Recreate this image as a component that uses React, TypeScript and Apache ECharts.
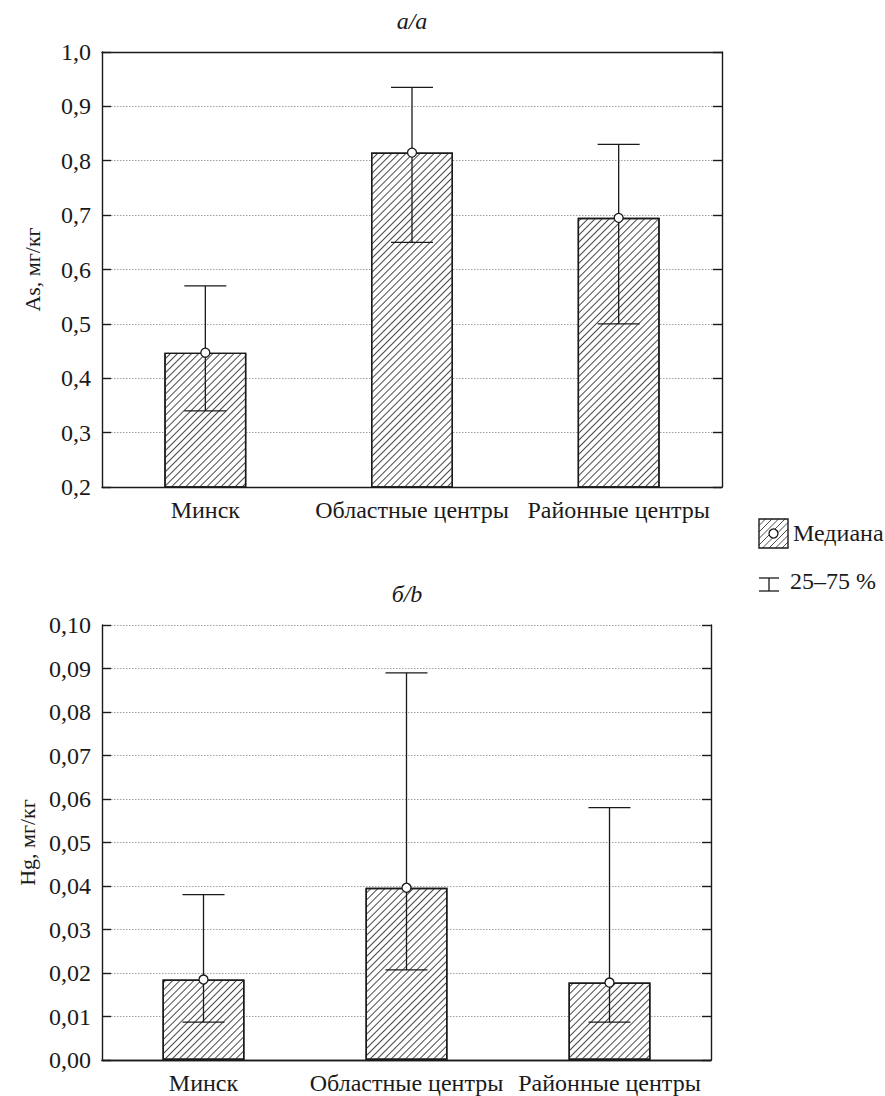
import React, { useEffect, useRef } from "react";
import * as echarts from "echarts";

const categories = ["Минск", "Областные центры", "Районные центры"];

// Panel a/a: As, mg/kg
const asMedian = [0.447, 0.815, 0.695];
const asQ25 = [0.34, 0.65, 0.5];
const asQ75 = [0.57, 0.935, 0.83];
const asTickLabels = ["0,2", "0,3", "0,4", "0,5", "0,6", "0,7", "0,8", "0,9", "1,0"];

// Panel б/b: Hg, mg/kg
const hgMedian = [0.0185, 0.0396, 0.0178];
const hgQ25 = [0.0087, 0.0207, 0.0087];
const hgQ75 = [0.038, 0.089, 0.058];
const hgTickLabels = ["0,00", "0,01", "0,02", "0,03", "0,04", "0,05", "0,06", "0,07", "0,08", "0,09", "0,10"];

const FONT = "'Liberation Serif', 'Times New Roman', Times, serif";
const INK = "#1a1a1a";
const FS = 24;

export default function App() {
  const ref = useRef<HTMLDivElement>(null);

  useEffect(() => {
    if (!ref.current) return;
    const chart = echarts.init(ref.current, undefined, { renderer: "svg" });

    const tickFmt = (labels: string[], min: number, step: number) => (v: number) => {
      const i = Math.round((v - min) / step);
      return labels[i] ?? "";
    };

    const decal = {
      symbol: "rect",
      symbolSize: 1,
      color: "#4a4a4a",
      dashArrayX: [1, 0],
      dashArrayY: [1, 3.6],
      rotation: -Math.PI / 4,
    };

    const makeAxes = (gi: number, min: number, max: number, step: number, labels: string[], name: string) => {
      const xs = [
        {
          type: "category",
          gridIndex: gi,
          data: categories,
          position: "bottom",
          axisLine: { lineStyle: { color: INK, width: 1.4 } },
          axisTick: { inside: true, alignWithLabel: true, length: 9, lineStyle: { color: INK, width: 1.2 } },
          axisLabel: { color: INK, fontSize: FS, fontFamily: FONT, margin: 11, interval: 0 },
        },
        {
          type: "category",
          gridIndex: gi,
          data: categories,
          position: "top",
          axisLine: { lineStyle: { color: INK, width: 1.4 } },
          axisTick: { inside: true, alignWithLabel: true, length: 10, lineStyle: { color: INK, width: 1.2 } },
          axisLabel: { show: false },
        },
      ];
      const ys = [
        {
          type: "value",
          gridIndex: gi,
          min,
          max,
          interval: step,
          position: "left",
          name,
          nameLocation: "middle",
          nameRotate: 90,
          nameGap: 59,
          nameTextStyle: { color: INK, fontSize: 22, fontFamily: FONT },
          axisLine: { show: true, lineStyle: { color: INK, width: 1.4 } },
          axisTick: { show: true, inside: true, length: 9, lineStyle: { color: INK, width: 1.4 } },
          axisLabel: { color: INK, fontSize: FS, fontFamily: FONT, margin: 11, formatter: tickFmt(labels, min, step) },
          splitLine: { show: true, lineStyle: { color: "#a0a0a0", width: 1, type: [1.5, 1.5] } },
        },
        {
          type: "value",
          gridIndex: gi,
          min,
          max,
          interval: step,
          position: "right",
          axisLine: { show: true, lineStyle: { color: INK, width: 1.4 } },
          axisTick: { show: true, inside: true, length: 9, lineStyle: { color: INK, width: 1.4 } },
          axisLabel: { show: false },
          splitLine: { show: false },
        },
      ];
      return { xs, ys };
    };

    const a = makeAxes(0, 0.2, 1.0, 0.1, asTickLabels, "As, мг/кг");
    const b = makeAxes(1, 0, 0.1, 0.01, hgTickLabels, "Hg, мг/кг");

    const renderWhisker = (_params: any, api: any) => {
      const x = api.value(0);
      const lo = api.coord([x, api.value(1)]);
      const hi = api.coord([x, api.value(2)]);
      const hw = 21;
      const style = { stroke: INK, lineWidth: 1.3 };
      return {
        type: "group",
        children: [
          { type: "line", shape: { x1: lo[0], y1: lo[1], x2: hi[0], y2: hi[1] }, style },
          { type: "line", shape: { x1: lo[0] - hw, y1: lo[1], x2: lo[0] + hw, y2: lo[1] }, style },
          { type: "line", shape: { x1: hi[0] - hw, y1: hi[1], x2: hi[0] + hw, y2: hi[1] }, style },
        ],
      };
    };

    const makeSeries = (xi: number, yi: number, med: number[], q25: number[], q75: number[]) => [
      {
        type: "bar",
        xAxisIndex: xi,
        yAxisIndex: yi,
        data: med,
        barWidth: 82,
        z: 2,
        itemStyle: { color: "#ffffff", borderColor: INK, borderWidth: 1.4, decal },
        emphasis: { disabled: true },
      },
      {
        type: "custom",
        xAxisIndex: xi,
        yAxisIndex: yi,
        z: 3,
        renderItem: renderWhisker,
        encode: { x: 0, y: [1, 2] },
        data: categories.map((_c, i) => [i, q25[i], q75[i]]),
      },
      {
        type: "scatter",
        xAxisIndex: xi,
        yAxisIndex: yi,
        z: 4,
        symbol: "circle",
        symbolSize: 9,
        data: med,
        itemStyle: { color: "#ffffff", borderColor: INK, borderWidth: 1.3, opacity: 1 },
      },
    ];

    // legend hatch lines ("/" direction), clipped to the legend square
    const lx = 759, ly = 519, ls = 29, sp = 6.5;
    const hatch: any[] = [];
    for (let k = -ls; k < ls * 2; k += sp) {
      let x1 = k, y1 = ls, x2 = k + ls, y2 = 0;
      if (x1 < 0) { y1 = ls + x1; x1 = 0; }
      if (x2 > ls) { y2 = x2 - ls; x2 = ls; }
      if (y1 <= y2 || x1 >= ls || x2 <= 0) continue;
      hatch.push({
        type: "line",
        shape: { x1: lx + x1, y1: ly + y1, x2: lx + x2, y2: ly + y2 },
        style: { stroke: "#4a4a4a", lineWidth: 1 },
      });
    }

    const option: any = {
      animation: false,
      textStyle: { fontFamily: FONT },
      grid: [
        { left: 102, top: 52, width: 620, height: 435 },
        { left: 102, top: 625, width: 609, height: 435 },
      ],
      xAxis: [...a.xs, ...b.xs],
      yAxis: [...a.ys, ...b.ys],
      series: [
        ...makeSeries(0, 0, asMedian, asQ25, asQ75),
        ...makeSeries(2, 2, hgMedian, hgQ25, hgQ75),
      ],
      graphic: [
        {
          type: "text",
          x: 412,
          y: 21,
          style: { text: "a/a", fontSize: FS, fontFamily: FONT, fontStyle: "italic", fill: INK, align: "center", verticalAlign: "middle" },
        },
        {
          type: "text",
          x: 407,
          y: 594,
          style: { text: "б/b", fontSize: FS, fontFamily: FONT, fontStyle: "italic", fill: INK, align: "center", verticalAlign: "middle" },
        },
        { type: "rect", shape: { x: lx, y: ly, width: ls, height: ls }, style: { fill: "#fff", stroke: "none" } },
        ...hatch,
        { type: "rect", shape: { x: lx, y: ly, width: ls, height: ls }, style: { fill: "none", stroke: INK, lineWidth: 1.4 } },
        { type: "circle", shape: { cx: lx + ls / 2, cy: ly + ls / 2, r: 4.5 }, style: { fill: "#fff", stroke: INK, lineWidth: 1.3 } },
        {
          type: "text",
          x: 793,
          y: 533,
          style: { text: "Медиана", fontSize: FS, fontFamily: FONT, fill: INK, align: "left", verticalAlign: "middle" },
        },
        { type: "line", shape: { x1: 769, y1: 578, x2: 769, y2: 591 }, style: { stroke: INK, lineWidth: 1.3 } },
        { type: "line", shape: { x1: 759, y1: 578, x2: 779, y2: 578 }, style: { stroke: INK, lineWidth: 1.3 } },
        { type: "line", shape: { x1: 759, y1: 591, x2: 779, y2: 591 }, style: { stroke: INK, lineWidth: 1.3 } },
        {
          type: "text",
          x: 790,
          y: 581,
          style: { text: "25–75 %", fontSize: FS, fontFamily: FONT, fill: INK, align: "left", verticalAlign: "middle" },
        },
      ],
    };

    chart.setOption(option);
    return () => chart.dispose();
  }, []);

  return (
    <div
      ref={ref}
      style={{ position: "fixed", left: 0, top: 0, width: 885, height: 1096, background: "#fff" }}
    />
  );
}
